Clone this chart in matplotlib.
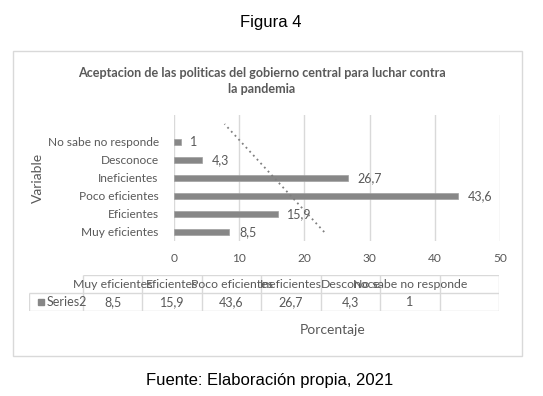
import numpy as np
import matplotlib
matplotlib.use("Agg")
import matplotlib.pyplot as plt
from matplotlib.patches import Rectangle

# data
categories = ["Muy eficientes", "Eficientes", "Poco eficientes",
              "Ineficientes", "Desconoce", "No sabe no responde"]
values = [8.5, 15.9, 43.6, 26.7, 4.3, 1]
series_name = "Series2"
xticks = [0, 10, 20, 30, 40, 50]

W, H = 543, 396
plt.rcParams['font.family'] = ['Lato', 'DejaVu Sans']
txt = '#595959'
grid = '#d9d9d9'
bar_col = '#878787'

def fx(px):
    return px / W

def fy(py):
    return 1 - py / H

fig = plt.figure(figsize=(W / 100, H / 100), dpi=100)

# outer chart frame
fig.patches.append(Rectangle((fx(13), fy(356)), fx(522) - fx(13), fy(51) - fy(356),
                             transform=fig.transFigure, fill=False,
                             edgecolor=grid, lw=1))

fig.text(fx(271), fy(22), "Figura 4", ha='center', va='center',
         fontsize=12, family=['Liberation Sans'], color='black')
fig.text(fx(270), fy(380), "Fuente: Elaboración propia, 2021", ha='center',
         va='center', fontsize=12, family=['Liberation Sans'], color='black')
fig.text(fx(262), fy(81), "Aceptacion de las politicas del gobierno central para luchar contra\nla pandemia",
         ha='center', va='center', fontsize=9.1, fontweight='bold', color=txt,
         linespacing=1.4)

# main bar chart
ax = fig.add_axes([fx(174), fy(241), fx(500) - fx(174), fy(115) - fy(241)])
pos = np.arange(len(categories))
bars = ax.barh(pos, values, height=0.33, color=bar_col, edgecolor='#a0a0a0', lw=0.5, zorder=3)
ax.bar_label(bars, labels=[f"{v:g}".replace('.', ',') for v in values],
             padding=7, fontsize=9, color=txt)

# linear trendline over the 7 category slots (last one empty)
slots = np.arange(len(categories) + 1)
k, b = np.polyfit(pos, values, 1)
ax.plot(k * slots + b, slots, linestyle=(0, (1, 2)), color='#7f7f7f', lw=1.3, zorder=4)

ax.set_xlim(xticks[0], xticks[-1])
ax.set_ylim(-0.5, len(categories) + 0.5)
ax.set_xticks(xticks)
ax.set_yticks(pos)
ax.set_yticklabels(categories)
ax.grid(axis='x', color=grid, lw=1, zorder=0)
for s in ax.spines.values():
    s.set_visible(False)
ax.tick_params(length=0, labelsize=8.6, colors=txt, pad=9)
ax.tick_params(axis='y', pad=11)

fig.text(fx(38), fy(178), "Variable", rotation=90, ha='center', va='center',
         fontsize=10, color=txt)
fig.text(fx(333), fy(330), "Porcentaje", ha='center', va='center',
         fontsize=10, color=txt)

# data table
ncol = len(categories) + 1
colw = (499 - 83) / ncol
leg = (83 - 29) / colw
tx = fig.add_axes([fx(29), fy(311), fx(499) - fx(29), fy(275) - fy(311)])
tx.set_xlim(-leg, ncol)
tx.set_ylim(0, 2)
tx.axis('off')
tx.hlines(2, 0, ncol, color=grid, lw=1)
tx.hlines([0, 1], -leg, ncol, color=grid, lw=1)
tx.vlines(np.arange(ncol + 1), 0, 2, color=grid, lw=1)
tx.vlines(-leg, 0, 1, color=grid, lw=1)
for i, c in enumerate(categories):
    tx.text(i + 0.5, 1.5, c, ha='center', va='center', fontsize=8.8, color=txt)
    tx.text(i + 0.5, 0.5, f"{values[i]:g}".replace('.', ','), ha='center',
            va='center', fontsize=9, color=txt)
tx.plot([-leg + 0.2], [0.5], marker='s', ms=5, color=bar_col, clip_on=False)
tx.text(-leg + 0.3, 0.5, series_name, ha='left', va='center', fontsize=9, color=txt)

fig.savefig("out.png", dpi=100)
